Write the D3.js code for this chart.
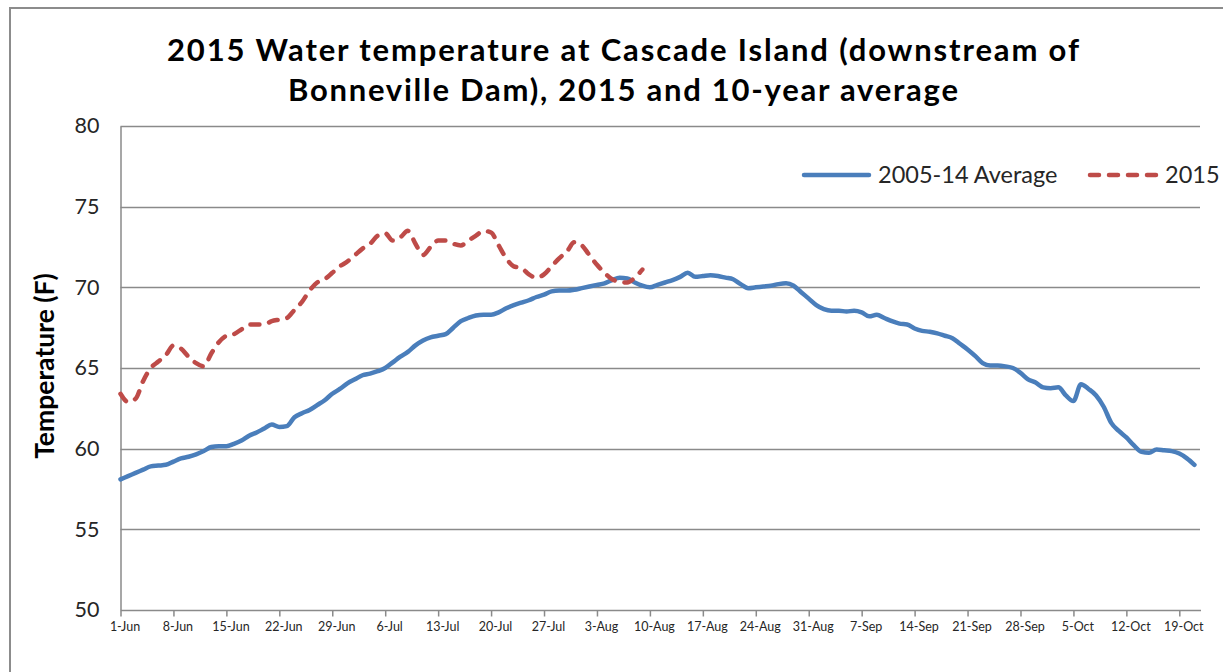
<!DOCTYPE html>
<html>
<head>
<meta charset="utf-8">
<script src="https://cdn.jsdelivr.net/npm/d3@7"></script>
<style>
  body { margin: 0; background: #fff; }
  text { font-family: Lato, "Noto Sans", sans-serif; }
</style>
</head>
<body>
<svg id="chart" width="1223" height="672"></svg>
<script>
// series start on 1-Jun, one value per day
var startDay = "1-Jun-2015";
var endDay = "22-Oct-2015";

var avgSeries = [
  58.1, 58.3, 58.5, 58.7, 58.9, 58.95, 59.0, 59.2, 59.4, 59.5,
  59.65, 59.85, 60.1, 60.15, 60.15, 60.3, 60.5, 60.8, 61.0, 61.25,
  61.5, 61.35, 61.4, 61.95, 62.2, 62.4, 62.7, 63.0, 63.4, 63.7,
  64.05, 64.3, 64.55, 64.65, 64.8, 65.0, 65.35, 65.7, 66.0, 66.4,
  66.7, 66.9, 67.0, 67.1, 67.5, 67.9, 68.1, 68.25, 68.3, 68.3,
  68.45, 68.7, 68.9, 69.05, 69.2, 69.4, 69.55, 69.75, 69.8, 69.8,
  69.85, 69.95, 70.05, 70.15, 70.25, 70.45, 70.6, 70.55, 70.3, 70.1,
  70.0, 70.15, 70.3, 70.45, 70.65, 70.9, 70.65, 70.7, 70.75, 70.7,
  70.6, 70.5, 70.2, 69.95, 70.0, 70.05, 70.1, 70.2, 70.25, 70.1,
  69.7, 69.3, 68.9, 68.65, 68.55, 68.55, 68.5, 68.55, 68.45, 68.2,
  68.3, 68.1, 67.9, 67.75, 67.7, 67.45, 67.3, 67.25, 67.15, 67.0,
  66.85, 66.5, 66.15, 65.75, 65.3, 65.15, 65.15, 65.1, 65.0, 64.7,
  64.3, 64.1, 63.8, 63.75, 63.8, 63.3, 62.95, 64.0, 63.7, 63.3,
  62.6, 61.6, 61.1, 60.7, 60.2, 59.8, 59.75, 59.95, 59.9, 59.85,
  59.7, 59.4, 59.0
];

var series2015 = [
  63.4, 62.9, 63.1, 64.2, 65.0, 65.4, 65.8, 66.4, 66.2, 65.7,
  65.3, 65.1, 65.9, 66.6, 67.0, 67.1, 67.4, 67.7, 67.7, 67.7,
  67.9, 68.0, 68.1, 68.6, 69.1, 69.8, 70.3, 70.5, 70.9, 71.3,
  71.6, 72.0, 72.4, 72.7, 73.2, 73.35, 72.9, 73.1, 73.5, 72.7,
  72.0, 72.5, 72.9, 72.9, 72.7, 72.6, 72.9, 73.2, 73.5, 73.4,
  72.6, 71.8, 71.3, 71.2, 70.8, 70.6, 70.8, 71.3, 71.8, 72.2,
  72.8, 72.6, 72.0, 71.4, 70.9, 70.5, 70.35, 70.3, 70.6, 71.1
];

var xTickLabels = ["1-Jun", "8-Jun", "15-Jun", "22-Jun", "29-Jun", "6-Jul", "13-Jul",
  "20-Jul", "27-Jul", "3-Aug", "10-Aug", "17-Aug", "24-Aug", "31-Aug", "7-Sep",
  "14-Sep", "21-Sep", "28-Sep", "5-Oct", "12-Oct", "19-Oct"];
var yTicks = [50, 55, 60, 65, 70, 75, 80];
var seriesNames = ["2005-14 Average", "2015"];

var parseDay = d3.timeParse("%d-%b-%Y");
var t0 = parseDay(startDay);

function toPoints(values) {
  return values.map(function(v, i) { return { date: d3.timeDay.offset(t0, i), value: v }; });
}

var svg = d3.select("#chart");

// outer chart frame
svg.append("rect")
  .attr("x", 10).attr("y", 8)
  .attr("width", 1260).attr("height", 700)
  .attr("fill", "none")
  .attr("stroke", "#8c8c8c")
  .attr("stroke-width", 2);

var x = d3.scaleTime()
  .domain([t0, parseDay(endDay)])
  .range([120.5, 1202]);
var y = d3.scaleLinear()
  .domain([50, 80])
  .range([610, 126]);

main = svg.append("g").attr("class", "main");

// horizontal gridlines
main.append("g")
  .selectAll("line")
  .data(yTicks.filter(function(d) { return d > 50; }))
  .join("line")
  .attr("x1", x.range()[0]).attr("x2", 1200)
  .attr("y1", function(d) { return Math.round(y(d)) + 0.5; })
  .attr("y2", function(d) { return Math.round(y(d)) + 0.5; })
  .attr("stroke", "#8a8a8a")
  .attr("stroke-width", 1.5);

// y axis
var yAxis = main.append("g")
  .attr("transform", "translate(" + x.range()[0] + ",0)")
  .call(d3.axisLeft(y).tickValues(yTicks).tickSize(0).tickPadding(21));
yAxis.select(".domain").attr("stroke", "#8a8a8a").attr("stroke-width", 1.5);
yAxis.selectAll("text")
  .attr("font-size", 21.5)
  .attr("fill", "#262626");

// x axis
var xTickDates = xTickLabels.map(function(s) { return parseDay(s + "-2015"); });
var xAxis = main.append("g")
  .attr("transform", "translate(0," + (y(50) + 0.5) + ")")
  .call(d3.axisBottom(x)
    .tickValues(xTickDates)
    .tickFormat(function(d, i) { return xTickLabels[i]; })
    .tickSizeOuter(0)
    .tickSize(6)
    .tickPadding(6));
xAxis.select(".domain").attr("stroke", "#8a8a8a").attr("stroke-width", 1.5)
  .attr("d", "M" + x.range()[0] + ",0H1201");
xAxis.selectAll(".tick line").attr("stroke", "#8a8a8a").attr("stroke-width", 1.5);
xAxis.selectAll("text")
  .attr("font-size", 12.5)
  .attr("fill", "#262626")
  .attr("dx", 4);

var line = d3.line()
  .x(function(d) { return x(d.date); })
  .y(function(d) { return y(d.value); })
  .curve(d3.curveMonotoneX);

main.append("path")
  .datum(toPoints(avgSeries))
  .attr("d", line)
  .attr("fill", "none")
  .attr("stroke", "#4a7ebb")
  .attr("stroke-width", 4.5)
  .attr("stroke-linejoin", "round")
  .attr("stroke-linecap", "round");

main.append("path")
  .datum(toPoints(series2015))
  .attr("d", line)
  .attr("fill", "none")
  .attr("stroke", "#be4b48")
  .attr("stroke-width", 4.5)
  .attr("stroke-dasharray", "9,10")
  .attr("stroke-linecap", "round")
  .attr("stroke-linejoin", "round");

// legend
var legend = svg.append("g").attr("class", "legend");
legend.append("line")
  .attr("x1", 804).attr("x2", 869).attr("y1", 175).attr("y2", 175)
  .attr("stroke", "#4a7ebb").attr("stroke-width", 4.5).attr("stroke-linecap", "round");
legend.append("text")
  .attr("x", 878).attr("y", 183)
  .attr("font-size", 23.5).attr("fill", "#262626")
  .text(seriesNames[0]);
legend.append("line")
  .attr("x1", 1090).attr("x2", 1158).attr("y1", 175).attr("y2", 175)
  .attr("stroke", "#be4b48").attr("stroke-width", 4.5)
  .attr("stroke-dasharray", "9,10").attr("stroke-linecap", "round");
legend.append("text")
  .attr("x", 1165).attr("y", 183)
  .attr("font-size", 23.5).attr("fill", "#262626")
  .text(seriesNames[1]);

// title
var title = svg.append("text")
  .attr("text-anchor", "middle")
  .attr("font-size", 31)
  .attr("font-weight", "bold")
  .attr("fill", "#000");
title.append("tspan").attr("x", 623).attr("y", 61)
  .attr("textLength", 912).attr("lengthAdjust", "spacing")
  .text("2015 Water temperature at Cascade Island (downstream of");
title.append("tspan").attr("x", 623).attr("y", 101)
  .attr("textLength", 670).attr("lengthAdjust", "spacing")
  .text("Bonneville Dam), 2015 and 10-year average");

// y axis title
svg.append("text")
  .attr("transform", "translate(54,366) rotate(-90)")
  .attr("text-anchor", "middle")
  .attr("font-size", 26.5)
  .attr("font-weight", "bold")
  .attr("fill", "#000")
  .text("Temperature (F)");
</script>
</body>
</html>
